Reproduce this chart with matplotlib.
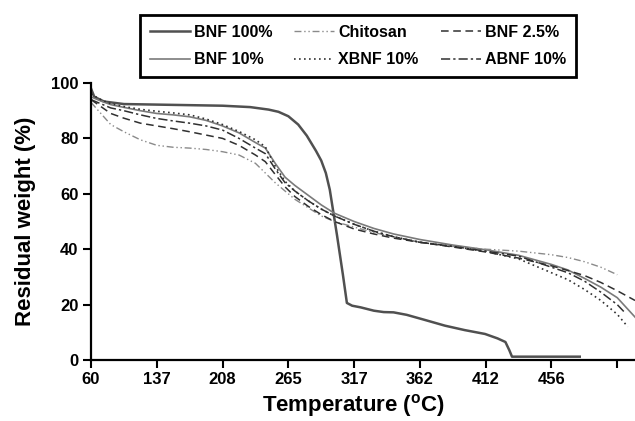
import matplotlib
matplotlib.use('Agg')
import matplotlib.pyplot as plt

plt.rcParams['font.family'] = ['Liberation Sans', 'DejaVu Sans']
plt.rcParams['font.weight'] = 'bold'
plt.rcParams['mathtext.fontset'] = 'custom'
plt.rcParams['mathtext.rm'] = 'Liberation Sans:bold'
plt.rcParams['mathtext.bf'] = 'Liberation Sans:bold'

# x axis is evenly spaced positions, labelled with temperature
tick_pos = [0, 1, 2, 3, 4, 5, 6, 7, 8]
tick_lab = ['60', '137', '208', '265', '317', '362', '412', '456', '']

# BNF 100% (own x points)
x_bnf100 = [0, 0.05, 0.2, 0.5, 1.0, 1.5, 2.0, 2.42, 2.7, 2.85, 3.0, 3.15, 3.28, 3.42, 3.5,
            3.57, 3.63, 3.68, 3.74, 3.83, 3.89, 3.97, 4.1, 4.3, 4.45, 4.6, 4.8, 5.07, 5.38,
            5.68, 5.99, 6.18, 6.3, 6.36, 6.4, 7.43]
y_bnf100 = [98, 95, 93.3, 92.4, 92.2, 92.0, 91.8, 91.3, 90.4, 89.6, 88.0, 85.0, 81.0, 75.5, 72,
            67.5, 61.5, 54, 45, 30.7, 20.6, 19.6, 19.0, 17.8, 17.3, 17.2, 16.3, 14.5, 12.4,
            10.8, 9.4, 7.8, 6.5, 3.5, 1.2, 1.2]

# other samples share a grid, plus a last end point each
xg = [0, 0.15, 0.3, 0.5, 0.75, 1.0, 1.25, 1.5, 1.75, 2.0, 2.25, 2.5, 2.65, 2.8, 2.95, 3.1,
      3.3, 3.5, 3.7, 4.0, 4.3, 4.6, 5.0, 5.5, 6.0, 6.5, 7.0, 7.25, 7.5, 7.75, 8.0]
y_bnf10 = [95, 93.5, 92.2, 91.2, 90, 89, 88.5, 87.8, 86.5, 84.5, 82, 78.5, 76.5, 71, 66, 63,
           59.5, 56, 53, 50, 47.5, 45.5, 43.5, 41.5, 39.8, 37.8, 34.5, 32.5, 29.5, 26.3, 22.5]
y_xbnf = [96, 94, 92.5, 91.5, 90.5, 89.8, 89.2, 88.5, 87, 85, 82.5, 79.5, 77, 70, 64.5, 61,
          57.5, 54.5, 52, 49, 46.5, 44.5, 42.5, 41, 39.2, 36.5, 31.5, 29, 25.5, 21.5, 16.5]
y_abnf = [94, 92.5, 91, 90, 88.5, 87.2, 86.3, 85.5, 84.5, 83, 80, 76.5, 74.5, 69, 64, 61,
          57.5, 54.5, 52, 49, 46.5, 44.5, 42.5, 41, 39.3, 37.5, 33.5, 31.5, 28.5, 24.5, 20]
y_bnf25 = [94, 91.5, 89, 87.3, 85.5, 84.5, 83.5, 82.4, 81.2, 80, 77.5, 74, 71.6, 67, 62.5, 59,
           55.5, 52.5, 50, 47.3, 45.5, 44, 42.5, 40.8, 39, 36.8, 34, 32.3, 30.5, 28, 25]
y_chit = [93, 89, 85, 82.4, 79.5, 77.5, 76.8, 76.5, 76, 75.2, 74, 71, 67.5, 64, 61, 58,
          55, 52, 50, 48, 46, 44.5, 42.5, 41, 40, 39.3, 38, 37, 35.5, 33.5, 30.8]
end_bnf10 = (8.27, 15.5)
end_xbnf = (8.16, 12)
end_abnf = (8.12, 17)
end_bnf25 = (8.27, 21.5)

fig = plt.figure(figsize=(6.35, 4.21), dpi=100)
ax = fig.add_axes([91/635, 61/421, 544/635, 277/421])

l1, = ax.plot(x_bnf100, y_bnf100, color='#505050', lw=1.8, ls='-')
l2, = ax.plot(xg + [end_bnf10[0]], y_bnf10 + [end_bnf10[1]], color='#7a7a7a', lw=1.2, ls='-')
l3, = ax.plot(xg, y_chit, color='#8a8a8a', lw=1.0, ls=(0, (5, 2, 1, 2, 1, 2)))
l4, = ax.plot(xg + [end_xbnf[0]], y_xbnf + [end_xbnf[1]], color='#303030', lw=1.2, ls=(0, (1, 2)))
l5, = ax.plot(xg + [end_bnf25[0]], y_bnf25 + [end_bnf25[1]], color='#303030', lw=1.1, ls=(0, (5, 3)))
l6, = ax.plot(xg + [end_abnf[0]], y_abnf + [end_abnf[1]], color='#303030', lw=1.1, ls=(0, (6, 2, 1.5, 2)))

ax.set_xlim(0, 8.27)
ax.set_ylim(0, 100)
ax.set_xticks(tick_pos)
ax.set_xticklabels(tick_lab)
ax.set_yticks([0, 20, 40, 60, 80, 100])
ax.tick_params(direction='out', length=6, width=1.5, labelsize=12, pad=3)
for s in ['top', 'right']:
    ax.spines[s].set_visible(False)
for s in ['left', 'bottom']:
    ax.spines[s].set_linewidth(1.6)
for lab in ax.get_xticklabels() + ax.get_yticklabels():
    lab.set_fontweight('bold')

ax.set_ylabel('Residual weight (%)', fontsize=16, fontweight='bold')
ax.yaxis.set_label_coords(-0.101, 0.5)
ax.set_xlabel(r'Temperature ($^{\mathrm{o}}$C)', fontsize=16, fontweight='bold')
ax.xaxis.set_label_coords(0.483, -0.115)

leg = fig.legend([l1, l2, l3, l4, l5, l6],
                 ['BNF 100%', 'BNF 10%', 'Chitosan', 'XBNF 10%', 'BNF 2.5%', 'ABNF 10%'],
                 ncol=3, loc='upper left', bbox_to_anchor=(140/635, 1 - 15/421),
                 borderaxespad=0, frameon=True, fancybox=False, edgecolor='black',
                 framealpha=1, prop={'weight': 'bold', 'size': 11.5}, handlelength=2.5,
                 handletextpad=0.25, columnspacing=1.4, borderpad=0.6, labelspacing=0.8)
leg.get_frame().set_linewidth(2)

plt.savefig('out.png', dpi=100)
